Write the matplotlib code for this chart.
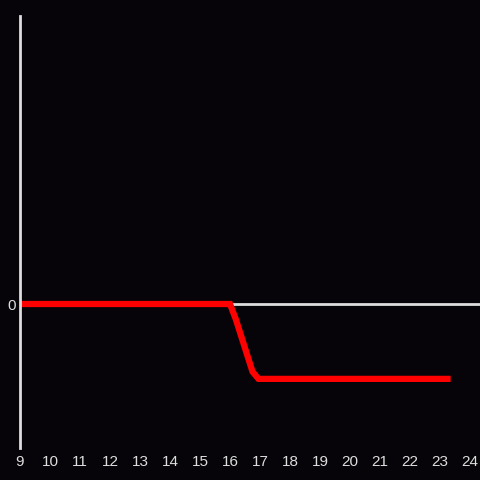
import matplotlib
matplotlib.use("Agg")
import matplotlib.pyplot as plt

## data
x_vals = [9, 16.0, 16.2, 16.75, 16.95, 23.25]
y_vals = [0, 0, -0.11, -0.47, -0.52, -0.52]
x_ticks = list(range(9, 25))
y_ticks = [0]

bg = "#060408"
fg = "#dddddd"

plt.rcParams['font.family'] = ['Liberation Sans', 'DejaVu Sans']

fig = plt.figure(figsize=(4.8, 4.8), dpi=100, facecolor=bg)
ax = fig.add_axes([20 / 480, 32 / 480, 460 / 480, 432 / 480])
ax.set_facecolor(bg)

ax.axhline(0, color=fg, lw=2, zorder=1)
ax.plot(x_vals, y_vals, color="#ff0000", lw=4.5, solid_capstyle="projecting",
        solid_joinstyle="miter", zorder=2)

ax.set_xlim(9, 9 + 460 / 30)
ax.set_ylim(-1, 2)
ax.set_xticks(x_ticks)
ax.set_xticklabels([str(t) for t in x_ticks])
ax.set_yticks(y_ticks)
ax.set_yticklabels(["0"])
ax.tick_params(axis="both", length=0, colors=fg, labelsize=11)
ax.tick_params(axis="x", pad=5)
ax.tick_params(axis="y", pad=3)

for s in ["top", "right", "bottom"]:
    ax.spines[s].set_visible(False)
ax.spines["left"].set_color(fg)
ax.spines["left"].set_linewidth(2)
ax.spines["left"].set_zorder(3)

fig.savefig("out.png", dpi=100, facecolor=bg)
